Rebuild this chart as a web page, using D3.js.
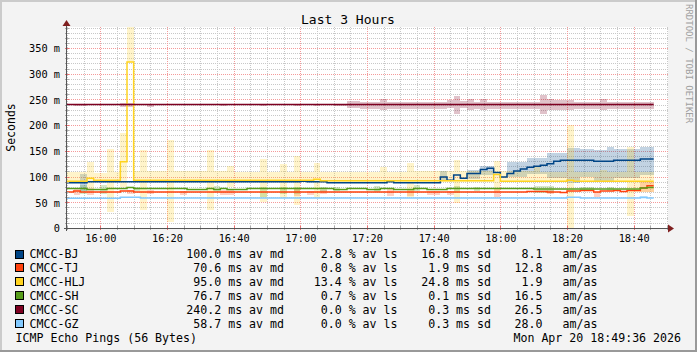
<!DOCTYPE html>
<html>
<head>
<meta charset="utf-8">
<script src="https://cdnjs.cloudflare.com/ajax/libs/d3/7.8.5/d3.min.js"></script>
<style>
    html, body { margin: 0; padding: 0; background: #f3f3f3; }
    svg text { font-family: "DejaVu Sans Mono", monospace; fill: #000; }
</style>
</head>
<body>
<svg id="chart" width="697" height="352"></svg>
<script>
// series + legend stats
const seriesNames = ["CMCC-BJ", "CMCC-TJ", "CMCC-HLJ", "CMCC-SH", "CMCC-SC", "CMCC-GZ"];
const seriesColors = ["#004586", "#ff420e", "#ffd320", "#579d1c", "#7e0021", "#83caff"];
const medianAvg = ["100.0", "70.6", "95.0", "76.7", "240.2", "58.7"];
const lossAvg = ["2.8", "0.8", "13.4", "0.7", "0.0", "0.0"];
const sdAvg = ["16.8", "1.9", "24.8", "0.1", "0.3", "0.3"];
const amAs = ["8.1", "12.8", "1.9", "16.5", "26.5", "28.0"];

// median lines: [time, ms] change points (step after)
const bjLine = [["15:50", 88], ["15:56", 90], ["17:00", 91], ["17:02", 90], ["17:08", 88], ["17:26", 90], ["17:28", 88],
    ["17:42", 99], ["17:44", 93], ["17:46", 103], ["17:48", 97], ["17:50", 106], ["17:54", 114], ["17:56", 116],
    ["17:58", 108], ["18:00", 99], ["18:02", 106], ["18:04", 111], ["18:06", 115], ["18:08", 118], ["18:10", 120],
    ["18:12", 122], ["18:14", 125], ["18:16", 130], ["18:18", 132], ["18:28", 130], ["18:34", 132], ["18:42", 134],
    ["18:46", 134]];
const tjLine = [["15:50", 70], ["15:52", 72], ["15:54", 70], ["16:06", 72], ["16:10", 70], ["18:08", 71], ["18:14", 70],
    ["18:18", 69], ["18:20", 72], ["18:24", 73], ["18:28", 70], ["18:30", 72], ["18:34", 73], ["18:36", 71],
    ["18:38", 73], ["18:42", 78], ["18:44", 82], ["18:46", 82]];
const hljLine = [["15:50", 91], ["15:56", 97], ["15:58", 93], ["16:06", 129], ["16:08", 323], ["16:10", 93],
    ["17:04", 95], ["17:06", 92], ["17:58", 104], ["18:00", 91], ["18:20", 93], ["18:22", 91], ["18:46", 91]];
const shLine = [["15:50", 77], ["15:56", 75], ["16:02", 77], ["16:08", 79], ["16:10", 77], ["16:26", 75], ["16:32", 77],
    ["16:34", 75], ["16:36", 77], ["16:38", 75], ["16:44", 77], ["17:10", 75], ["17:14", 77], ["17:20", 75],
    ["17:24", 77], ["17:28", 75], ["17:34", 77], ["17:38", 75], ["17:44", 77], ["18:10", 76], ["18:42", 78],
    ["18:44", 79], ["18:46", 79]];
const scLine = [["15:50", 240], ["18:46", 240]];
const gzLine = [["15:50", 58], ["16:06", 60], ["16:12", 58.5], ["18:20", 60], ["18:24", 58.5], ["18:42", 60],
    ["18:44", 58.5], ["18:46", 58.5]];

// smoke: [start, end, low ms, high ms]
const bjSmoke = [["15:54", "15:56", 72, 106], ["17:42", "17:44", 92, 110], ["17:50", "17:54", 96, 112],
    ["17:54", "17:58", 104, 120], ["18:02", "18:08", 100, 128], ["18:08", "18:14", 106, 136],
    ["18:14", "18:20", 98, 146], ["18:20", "18:24", 88, 155], ["18:24", "18:28", 100, 153],
    ["18:28", "18:32", 90, 151], ["18:32", "18:34", 92, 158], ["18:34", "18:42", 98, 153],
    ["18:42", "18:46", 104, 158]];
const tjSmoke = [["15:52", "15:54", 64, 75], ["15:56", "15:58", 64, 77], ["16:08", "16:10", 66, 74],
    ["16:14", "16:16", 66, 74], ["16:24", "16:26", 64, 72], ["16:36", "16:40", 64, 74], ["16:58", "17:00", 63, 75],
    ["17:02", "17:04", 64, 72], ["17:06", "17:08", 66, 74], ["17:26", "17:28", 63, 75], ["17:32", "17:34", 63, 75],
    ["17:38", "17:42", 64, 72], ["17:44", "17:46", 64, 72], ["17:58", "18:00", 60, 78], ["18:14", "18:16", 66, 74],
    ["18:28", "18:30", 61, 71], ["18:42", "18:46", 70, 90]];
const hljSmoke = [["15:50", "15:56", 89, 109], ["15:56", "15:58", 78, 129], ["15:58", "16:02", 89, 107],
    ["16:02", "16:04", 32, 154], ["16:04", "16:06", 89, 108], ["16:06", "16:08", 80, 185], ["16:08", "16:10", 323, 400],
    ["16:10", "16:12", 89, 110], ["16:12", "16:14", 35, 152], ["16:14", "16:20", 89, 110], ["16:20", "16:22", 12, 172],
    ["16:22", "16:32", 89, 110], ["16:32", "16:34", 35, 152], ["16:34", "16:38", 89, 110], ["16:38", "16:40", 80, 120],
    ["16:40", "16:48", 89, 108], ["16:48", "16:50", 51, 134], ["16:50", "16:54", 89, 108], ["16:54", "16:56", 58, 124],
    ["16:56", "16:58", 89, 108], ["16:58", "17:00", 45, 140], ["17:00", "17:04", 89, 108], ["17:04", "17:06", 58, 127],
    ["17:06", "17:24", 89, 108], ["17:24", "17:26", 89, 119], ["17:26", "17:32", 89, 108], ["17:32", "17:34", 61, 126],
    ["17:34", "17:46", 89, 110], ["17:46", "17:48", 49, 132], ["17:48", "17:58", 89, 110], ["17:58", "18:00", 72, 130],
    ["18:00", "18:10", 89, 110], ["18:10", "18:12", 89, 118], ["18:12", "18:20", 89, 108], ["18:20", "18:22", 0, 200],
    ["18:22", "18:30", 89, 108], ["18:30", "18:32", 89, 112], ["18:32", "18:38", 89, 108], ["18:38", "18:40", 23, 158],
    ["18:40", "18:46", 70, 108]];
const shSmoke = [["15:54", "15:56", 66, 84], ["16:00", "16:02", 67, 83], ["16:10", "16:12", 72, 80],
    ["16:34", "16:36", 70, 82], ["16:48", "16:50", 61, 80], ["16:54", "16:56", 66, 80], ["16:58", "17:00", 66, 80],
    ["17:06", "17:08", 70, 80], ["17:10", "17:12", 72, 80], ["17:22", "17:24", 70, 82], ["17:34", "17:36", 72, 84],
    ["17:46", "17:48", 68, 82], ["17:52", "17:54", 72, 80], ["18:10", "18:16", 68, 82], ["18:24", "18:28", 72, 80],
    ["18:32", "18:34", 72, 80]];
const scSmoke = [["15:52", "15:56", 237, 241], ["16:06", "16:10", 236, 244], ["16:14", "16:16", 236, 241],
    ["16:36", "16:38", 237, 241], ["16:48", "16:50", 237, 241], ["16:58", "17:00", 237, 241], ["17:04", "17:06", 237, 241],
    ["17:10", "17:14", 237, 241], ["17:14", "17:18", 234, 248], ["17:18", "17:24", 231, 246], ["17:24", "17:26", 229, 251],
    ["17:26", "17:44", 231, 246], ["17:44", "17:46", 234, 249], ["17:46", "17:48", 222, 257], ["17:48", "17:50", 234, 248],
    ["17:50", "17:52", 229, 251], ["17:52", "17:54", 231, 246], ["17:54", "17:56", 229, 251], ["17:56", "18:12", 232, 246],
    ["18:12", "18:14", 222, 259], ["18:14", "18:16", 229, 251], ["18:16", "18:22", 229, 249], ["18:22", "18:30", 232, 246],
    ["18:30", "18:32", 229, 251], ["18:32", "18:46", 231, 246]];
const gzSmoke = [["18:16", "18:20", 57, 61], ["18:42", "18:44", 57, 62]];

const allLines = [bjLine, tjLine, hljLine, shLine, scLine, gzLine];
const allSmoke = [bjSmoke, tjSmoke, hljSmoke, shSmoke, scSmoke, gzSmoke];

const timeRange = ["15:50", "18:50"];
const yTicks = [0, 50, 100, 150, 200, 250, 300, 350];
const yMax = 391;

const parseT = d3.timeParse("%Y-%m-%d %H:%M");
const T = (s) => parseT("2026-04-20 " + s);

const svg = d3.select("#chart");
const W = 697, H = 352;

// background + 3d frame
svg.append("rect").attr("width", W).attr("height", H).attr("fill", "#f3f3f3");
svg.append("path").attr("d", `M0,${H} V0 H${W}`).attr("fill", "none").attr("stroke", "#cbcbcb").attr("stroke-width", 4);
svg.append("path").attr("d", `M${W},0 V${H} H0`).attr("fill", "none").attr("stroke", "#999").attr("stroke-width", 4);

const x = d3.scaleTime().domain(timeRange.map(T)).range([67, 667]);
const y = d3.scaleLinear().domain([0, yMax]).range([228, 27]);

// canvas
svg.append("rect").attr("x", 67).attr("y", 27).attr("width", 601).attr("height", 201).attr("fill", "#fff");

svg.append("clipPath").attr("id", "clip")
    .append("rect").attr("x", 67).attr("y", 27).attr("width", 601).attr("height", 201);

const grid = svg.append("g").attr("shape-rendering", "crispEdges");
// minor horizontal grid every 10 ms
d3.range(10, yMax, 10).filter((v) => v % 50 !== 0).forEach((v) => {
    grid.append("line").attr("x1", 67).attr("x2", 668).attr("y1", Math.round(y(v)) + 0.5).attr("y2", Math.round(y(v)) + 0.5)
        .attr("stroke", "#c8c8c8").attr("stroke-dasharray", "1,1");
});
// minor vertical every 5 min
x.ticks(d3.timeMinute.every(5)).filter((t) => t.getMinutes() % 20 !== 0).forEach((t) => {
    grid.append("line").attr("x1", Math.round(x(t)) + 0.5).attr("x2", Math.round(x(t)) + 0.5).attr("y1", 27).attr("y2", 228)
        .attr("stroke", "#c8c8c8").attr("stroke-dasharray", "1,1");
});
// major grid
yTicks.filter((v) => v > 0).forEach((v) => {
    grid.append("line").attr("x1", 67).attr("x2", 668).attr("y1", Math.round(y(v)) + 0.5).attr("y2", Math.round(y(v)) + 0.5)
        .attr("stroke", "#f49a9a").attr("stroke-dasharray", "1,1");
});
const majorT = x.ticks(d3.timeMinute.every(20));
majorT.forEach((t) => {
    grid.append("line").attr("x1", Math.round(x(t)) + 0.5).attr("x2", Math.round(x(t)) + 0.5).attr("y1", 27).attr("y2", 228)
        .attr("stroke", "#f49a9a").attr("stroke-dasharray", "1,1");
});

// smoke
const plot = svg.append("g").attr("clip-path", "url(#clip)");
allSmoke.forEach((segs, i) => {
    plot.append("g").attr("shape-rendering", "crispEdges")
        .selectAll("rect").data(segs).enter().append("rect")
        .attr("x", (d) => x(T(d[0])))
        .attr("width", (d) => x(T(d[1])) - x(T(d[0])))
        .attr("y", (d) => y(d[3]))
        .attr("height", (d) => y(d[2]) - y(d[3]))
        .attr("fill", seriesColors[i])
        .attr("fill-opacity", 0.24);
});

// median lines
const line = d3.line().x((d) => x(T(d[0]))).y((d) => y(d[1])).curve(d3.curveStepAfter);
allLines.forEach((pts, i) => {
    plot.append("path").datum(pts)
        .attr("fill", "none").attr("stroke", seriesColors[i]).attr("stroke-width", 1.5)
        .attr("d", line);
});

// axes
const axisG = svg.append("g").attr("shape-rendering", "crispEdges");
x.ticks(d3.timeMinute.every(5)).forEach((t) => {
    const major = t.getMinutes() % 20 === 0;
    axisG.append("line").attr("x1", Math.round(x(t)) + 0.5).attr("x2", Math.round(x(t)) + 0.5)
        .attr("y1", 226).attr("y2", 230).attr("stroke", major ? "#e87070" : "#aaa");
});
d3.range(0, yMax, 10).forEach((v) => {
    axisG.append("line").attr("x1", 65).attr("x2", 69).attr("y1", Math.round(y(v)) + 0.5).attr("y2", Math.round(y(v)) + 0.5)
        .attr("stroke", v % 50 === 0 ? "#e87070" : "#aaa");
});
axisG.append("line").attr("x1", 64).attr("x2", 670).attr("y1", 228.5).attr("y2", 228.5).attr("stroke", "#555");
axisG.append("line").attr("x1", 66.5).attr("x2", 66.5).attr("y1", 25).attr("y2", 231).attr("stroke", "#555");
svg.append("path").attr("d", "M668,224.5 L674,228.5 L668,232.5 Z").attr("fill", "#7f1f1f");
svg.append("path").attr("d", "M62.5,26 L66.5,20 L70.5,26 Z").attr("fill", "#7f1f1f");

const yAxis = d3.axisLeft(y).tickValues(yTicks).tickSize(0).tickPadding(0)
    .tickFormat((d) => (d === 0 ? "0" : d + " m"));
const yg = svg.append("g").attr("transform", "translate(60,0)").call(yAxis);
yg.select(".domain").remove();
yg.selectAll("text").style("font-size", "10.3px").attr("dy", "0.36em").attr("x", 0);

const xAxis = d3.axisBottom(x).ticks(d3.timeMinute.every(20)).tickSize(0).tickPadding(0)
    .tickFormat(d3.timeFormat("%H:%M"));
const xg = svg.append("g").attr("transform", "translate(0,234)").call(xAxis);
xg.select(".domain").remove();
xg.selectAll("text").style("font-size", "10.3px").attr("dy", "0.75em").attr("y", 0);

// title, axis label, watermark
svg.append("text").attr("x", 348).attr("y", 23.5).attr("text-anchor", "middle")
    .style("font-size", "13px").text("Last 3 Hours");
svg.append("text").attr("transform", "translate(15,127.5) rotate(-90)").attr("text-anchor", "middle")
    .style("font-size", "11.5px").text("Seconds");
svg.append("text").attr("transform", "translate(685.5,4) rotate(90)").attr("text-anchor", "start")
    .style("font-size", "9px").style("fill", "#a0a0a0").text("RRDTOOL / TOBI OETIKER");

// legend
const lg = svg.append("g").style("font-size", "11.6px");
seriesNames.forEach((name, i) => {
    const yb = 258.3 + i * 13.9;
    lg.append("rect").attr("x", 15.5).attr("y", yb - 8.3).attr("width", 8).attr("height", 8)
        .attr("fill", seriesColors[i]).attr("stroke", "#000").attr("shape-rendering", "crispEdges");
    lg.append("text").attr("x", 29.5).attr("y", yb).text(name);
    lg.append("text").attr("x", 284).attr("y", yb).attr("text-anchor", "end").text(medianAvg[i] + " ms av md");
    lg.append("text").attr("x", 397.5).attr("y", yb).attr("text-anchor", "end").text(lossAvg[i] + " % av ls");
    lg.append("text").attr("x", 491).attr("y", yb).attr("text-anchor", "end").text(sdAvg[i] + " ms sd");
    lg.append("text").attr("x", 542.5).attr("y", yb).attr("text-anchor", "end").text(amAs[i]);
    lg.append("text").attr("x", 562.5).attr("y", yb).text("am/as");
});
lg.append("text").attr("x", 15.5).attr("y", 341.5).text("ICMP Echo Pings (56 Bytes)");
lg.append("text").attr("x", 681).attr("y", 341.5).attr("text-anchor", "end").text("Mon Apr 20 18:49:36 2026");
</script>
</body>
</html>
